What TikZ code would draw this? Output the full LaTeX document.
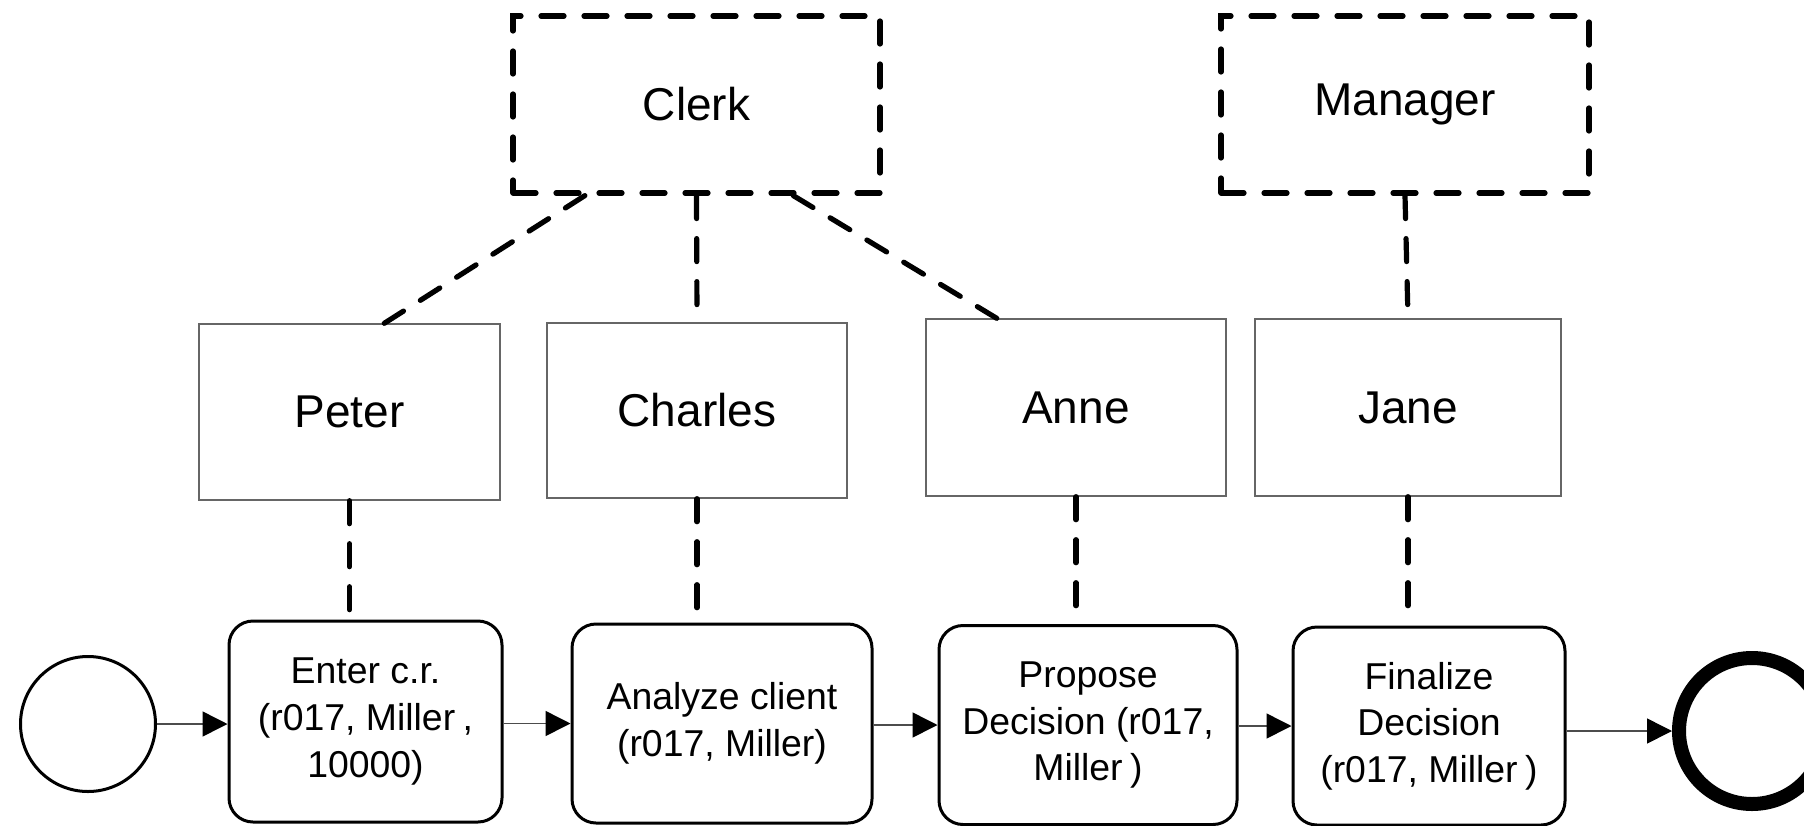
\documentclass[tikz,border=0pt]{standalone}
\usepackage{fontspec}
\setmainfont{Liberation Sans}
\usetikzlibrary{arrows.meta,calc}
\begin{document}
\begin{tikzpicture}[x=0.5pt,y=-0.5pt,
  rolegrp/.style={draw, line width=2.6pt, dash pattern=on 11.5pt off 10pt, line cap=round, minimum height=88.5pt, inner sep=0pt, font=\fontsize{23}{27}\selectfont},
  person/.style={draw=black!60, line width=0.7pt, minimum height=88pt, inner sep=0pt, font=\fontsize{23}{27}\selectfont},
  task/.style={draw, line width=1.5pt, rounded corners=12pt, minimum height=99.5pt, inner sep=0pt, align=center, font=\fontsize{18.7}{23.3}\selectfont},
  assoc/.style={line width=2.6pt, dash pattern=on 11.5pt off 10pt, line cap=round},
  flow/.style={draw=black!70, line width=0.75pt, -{Triangle[length=12.5pt,width=12.5pt,color=black]}},
  event/.style={circle, draw, inner sep=0pt}
]
\useasboundingbox (0,0) rectangle (1804,825);
\clip (0,0) rectangle (1804,825);
\fill[white] (0,0) rectangle (1804,825);

\node[rolegrp, minimum width=183.5pt] (clerk) at (696.5,104.5) {Clerk};
\node[rolegrp, minimum width=184pt] (manager) at (1405,104.5) {Manager};

\node[person, minimum width=150.5pt] (peter) at (349.5,412) {Peter};
\node[person, minimum width=150pt, minimum height=87.5pt] (charles) at (697,410.5) {Charles};
\node[person, minimum width=150pt, minimum height=88.5pt] (anne) at (1076,407.5) {Anne};
\node[person, minimum width=153pt, minimum height=88.5pt] (jane) at (1408,407.5) {Jane};

\node[event, line width=1.5pt, minimum size=67.5pt] (start) at (88,724) {};
\node[task, minimum width=136.5pt, minimum height=100.5pt] (enter) at (365.5,721.5) {Enter c.r.\\(r017, Miller\hspace{0.2em},\\10000)};
\node[task, minimum width=150pt] (analyze) at (722,723.5) {Analyze client\\(r017, Miller)};
\node[task, minimum width=149pt] (propose) at (1088,725) {Propose\\Decision (r017,\\Miller\hspace{0.2em})};
\node[task, minimum width=136pt, minimum height=99pt] (finalize) at (1429,726) {Finalize\\Decision\\(r017, Miller\hspace{0.2em})};
\node[event, line width=7pt, minimum size=73pt] (endev) at (1752,731) {};

\draw[flow] (start.east) -- (start.east -| enter.west);
\draw[flow] (enter.east |- analyze.west) -- (analyze.west);
\draw[flow] (analyze.east |- propose.west) -- (propose.west);
\draw[flow] (propose.east |- finalize.west) -- (finalize.west);
\draw[flow] (finalize.east |- endev.west) -- (endev.west);

\draw[assoc] ($(clerk.south west)!0.2!(clerk.south east)$) -- ($(peter.north west)!0.615!(peter.north east)$);
\draw[assoc, shorten >=8pt] (clerk.south) -- (charles.north);
\draw[assoc] ($(clerk.south west)!0.76!(clerk.south east)$) -- ($(anne.north west)!0.237!(anne.north east)$);
\draw[assoc, shorten >=4.5pt] (manager.south) -- (jane.north);

\draw[assoc, shorten >=4.5pt] (peter.south) -- (peter.south |- enter.north);
\draw[assoc, shorten >=6pt] (charles.south) -- (charles.south |- analyze.north);
\draw[assoc, shorten >=8pt] (anne.south) -- (anne.south |- propose.north);
\draw[assoc, shorten >=9pt] (jane.south) -- (jane.south |- finalize.north);
\end{tikzpicture}
\end{document}
